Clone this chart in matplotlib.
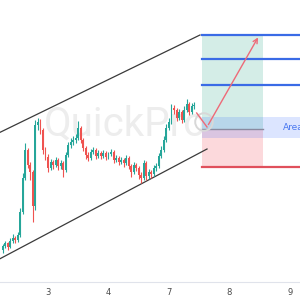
import matplotlib
matplotlib.use("Agg")
import matplotlib.pyplot as plt
import numpy as np

# hourly candles, x = bar index (24 bars per day), price in chart points
bar_x = np.arange(6, 83)
opens = [50, 54, 57, 53, 59, 62, 60, 65, 88, 122, 150, 135, 128, 94, 175, 178, 170, 150, 143,
         132, 138, 135, 140, 134, 137, 130, 145, 155, 158, 160, 162, 172, 160, 152, 145, 142,
         148, 150, 144, 147, 144, 147, 143, 146, 148, 140, 142, 138, 140, 137, 142, 134, 128,
         135, 132, 125, 122, 137, 124, 128, 126, 132, 134, 144, 150, 160, 172, 178, 192, 190,
         182, 188, 180, 190, 196, 188, 194]
closes = [54, 57, 53, 59, 62, 60, 65, 88, 122, 150, 135, 128, 94, 175, 178, 170, 150, 143, 132,
          138, 135, 140, 134, 137, 130, 145, 155, 158, 160, 162, 172, 160, 152, 145, 142, 148,
          150, 144, 147, 144, 147, 143, 146, 148, 140, 142, 138, 140, 137, 142, 134, 128, 135,
          132, 125, 122, 137, 124, 128, 126, 132, 134, 144, 150, 160, 172, 178, 192, 190, 182,
          188, 180, 190, 196, 188, 194, 195]
highs = [56, 59, 58, 62, 66, 64, 68, 92, 127, 157, 152, 138, 130, 180, 182, 181, 172, 153, 146,
         141, 140, 143, 142, 140, 139, 148, 158, 162, 164, 166, 179, 174, 162, 154, 148, 151,
         153, 152, 150, 149, 150, 149, 148, 151, 150, 145, 144, 143, 142, 145, 144, 136, 138,
         137, 134, 128, 140, 139, 131, 130, 135, 137, 147, 154, 164, 176, 182, 196, 195, 192,
         191, 190, 194, 201, 198, 197, 198]
lows = [47, 52, 50, 52, 57, 57, 58, 63, 86, 120, 132, 120, 78, 90, 170, 166, 146, 140, 128,
        130, 131, 133, 130, 131, 123, 128, 143, 152, 155, 157, 160, 157, 149, 141, 139, 140,
        146, 141, 142, 141, 142, 140, 141, 144, 137, 138, 135, 136, 133, 135, 131, 123, 126,
        129, 121, 117, 120, 120, 121, 122, 124, 129, 132, 142, 148, 158, 170, 176, 186, 179,
        180, 177, 178, 188, 185, 186, 191]

day_ticks = [24, 48, 72, 96, 120]
day_labels = ["3", "4", "7", "8", "9"]

# channel lines (x0, p0, x1, p1)
upper_channel = (4.0, 166.5, 84.3, 265.0)
lower_channel = (4.0, 40.0, 87.1, 151.0)

# long position tool
pos_left, pos_right = 85.0, 109.3
entry, stop = 171.0, 133.0
targets = [265.5, 241.0, 215.0]
area_band = (162.0, 183.0)
arrow_path_x = [83.0, 87.1, 107.9]
arrow_path_y = [187.0, 173.0, 265.0]

UP = "#26a69a"
DOWN = "#ef5350"

fig = plt.figure(figsize=(3, 3), dpi=100)
ax = fig.add_axes([0, 0.06, 1, 0.94])
ax.set_xlim(4.95, 124.0)
ax.set_ylim(18, 300)

ax.text(22.4, 164, "QuickPro", fontsize=29, family="Roboto",
        color="#ededed", va="baseline", ha="left", zorder=0)

# position boxes
ax.fill_between([pos_left, pos_right], entry, targets[0], color="#d4ede7", lw=0, zorder=1)
ax.fill_between([pos_left, pos_right], stop, entry, color="#fcd9dc", lw=0, zorder=1)
ax.fill_between([pos_left, 130], area_band[0], area_band[1], color="#2962ff", alpha=0.16,
                lw=0, zorder=1.5)
for t in targets:
    ax.plot([pos_left, 130], [t, t], color="#3a6be6", lw=1.6, zorder=2)
ax.plot([pos_left, pos_right], [entry, entry], color="#8a8aa0", lw=1.0, zorder=2)
ax.plot([pos_left, 130], [stop, stop], color="#e0505c", lw=1.6, zorder=2)
ax.text(117.3, 172.3, "Area", fontsize=6.5, color="#4a78f0", va="center", ha="left", zorder=3)

# channel
for x0, p0, x1, p1 in (upper_channel, lower_channel):
    ax.plot([x0, x1], [p0, p1], color="#3a3a3a", lw=0.9, zorder=2)

# candles
colors = [UP if c >= o else DOWN for o, c in zip(opens, closes)]
ax.vlines(bar_x, lows, highs, colors=colors, lw=0.8, zorder=3)
bottoms = np.minimum(opens, closes)
heights = np.maximum(np.abs(np.array(closes) - np.array(opens)), 1.2)
ax.bar(bar_x, heights, bottom=bottoms, width=0.75, color=colors, lw=0, zorder=3)

# projection arrow
ax.scatter([85.9], [178], s=160, facecolors="none", edgecolors="#d8d8d8", lw=1.4, zorder=2.5)
ax.plot(arrow_path_x[:2], arrow_path_y[:2], color="#ee6a78", lw=1.0, zorder=4)
ax.annotate("", xy=(arrow_path_x[2], arrow_path_y[2]), xytext=(arrow_path_x[1], arrow_path_y[1]),
            arrowprops=dict(arrowstyle="->", color="#ee6a78", lw=1.0, mutation_scale=8),
            zorder=4)

for s in ("top", "left", "right"):
    ax.spines[s].set_visible(False)
ax.spines["bottom"].set_color("#e0e3eb")
ax.set_yticks([])
ax.set_xticks(day_ticks)
ax.set_xticklabels(day_labels)
ax.tick_params(axis="x", length=0, pad=4.5, labelsize=6, labelcolor="#4a4a4a")

fig.savefig("out.png", dpi=100)
